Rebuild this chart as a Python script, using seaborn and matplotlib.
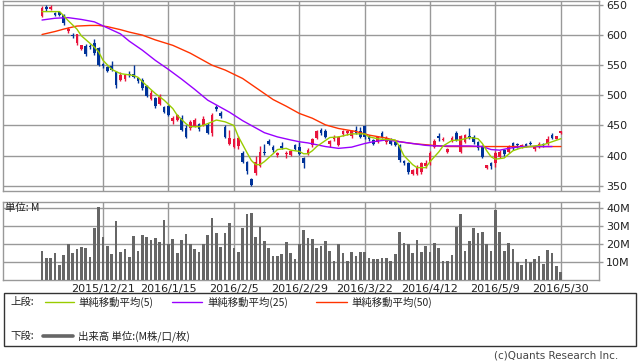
import matplotlib
matplotlib.use("Agg")
import numpy as np
import pandas as pd
import matplotlib.pyplot as plt
import seaborn as sns
from matplotlib.lines import Line2D
from matplotlib.patches import Rectangle

# ---------------- data ----------------
opens = [632,646,644,636,638,633,606,600,587,577,582,582,587,578,552,547,549,539,525,527,
         536,535,528,526,515,494,496,486,481,482,457,459,463,446,445,449,452,451,451,438,
         481,471,448,419,415,416,405,389,361,371,383,406,425,415,401,416,402,401,417,415,
         396,403,417,429,442,441,419,427,418,436,437,432,442,441,449,432,426,423,437,423,
         428,423,417,391,387,370,369,373,382,387,415,432,426,406,425,438,406,423,432,431,
         423,415,379,387,387,398,409,406,421,418,415,419,421,411,415,420,420,434,428,437]
closes = [645,644,646,633,634,620,610,598,601,583,568,580,570,550,548,540,542,517,534,534,
          534,530,523,512,499,504,482,497,473,467,463,467,442,431,456,459,444,461,437,467,
          477,465,431,430,427,430,390,375,351,390,406,404,420,410,404,413,404,407,411,403,
          387,410,428,440,438,431,425,431,431,440,441,441,437,431,431,427,420,431,431,430,
          419,418,393,387,372,376,379,387,388,405,425,430,428,411,430,426,432,434,430,422,
          412,398,384,382,405,406,403,416,412,417,418,416,420,415,420,417,428,429,432,440]
highs = [648,650,650,639,640,635,613,603,602,584,586,586,593,580,554,549,557,541,539,536,
         541,550,530,528,517,509,497,503,483,484,465,469,467,451,459,462,454,465,454,470,
         484,474,450,442,429,433,407,391,363,399,416,420,427,418,406,423,407,409,420,423,
         398,412,430,442,446,444,426,434,433,443,443,443,449,448,451,434,428,433,440,432,
         430,425,419,393,389,378,384,390,392,407,428,437,431,413,432,440,434,436,445,434,
         425,417,385,389,408,409,411,418,423,421,420,421,424,416,422,421,432,438,433,441]
lows = [630,640,642,631,632,617,604,595,583,575,566,577,567,548,545,538,540,513,523,524,
        530,528,520,509,497,492,479,484,471,465,452,457,440,430,443,447,441,449,435,432,
        474,462,429,417,413,411,388,370,349,368,381,401,418,406,398,411,396,399,409,401,
        380,401,415,427,434,429,414,424,416,432,434,430,435,429,427,424,418,421,429,420,
        417,416,390,385,370,368,367,369,379,385,413,425,424,404,423,424,404,421,428,420,
        410,396,378,378,381,396,400,404,410,413,413,414,417,408,413,415,418,427,427,436]
volume_m = [16.4,12.5,12.5,15.3,8.6,14.2,20.0,15.3,17.6,18.7,
            18.1,13.1,28.8,40.7,24.3,19.3,14.8,32.7,15.9,17.6,
            13.1,24.9,16.4,25.4,24.3,22.6,23.7,21.5,33.3,20.4,
            23.2,15.3,22.6,26.0,20.4,17.6,15.9,20.4,25.4,34.4,
            26.5,18.7,26.5,32.1,18.1,15.9,29.3,36.6,37.2,24.3,
            29.9,22.1,18.1,13.6,13.6,14.8,21.5,15.3,12.0,20.0,
            28.2,23.7,23.2,18.1,19.3,22.1,16.4,10.8,20.0,15.3,
            10.8,15.9,13.6,15.9,15.9,12.5,12.0,12.0,12.5,12.5,
            10.8,14.8,27.1,20.9,20.4,15.3,22.6,15.9,19.3,15.9,
            20.9,18.1,10.8,10.8,14.2,29.9,36.6,16.4,22.1,28.8,
            26.5,27.1,20.0,16.4,38.9,27.1,16.4,20.9,17.6,10.3,
            8.6,12.0,10.3,12.0,13.6,9.2,17.0,15.3,8.0,4.7]

ma5_idx = [0,4,5,6,8,9,12,13,14,16,18,21,22,24,26,28,30,31,33,34,36,38,40,42,44,45,47,48,49,50,
           51,53,54,56,57,59,60,61,62,63,65,66,68,71,74,75,77,78,81,82,83,85,86,88,89,91,92,94,96,
           98,100,101,102,103,104,106,107,108,110,113,115,117,119]
ma5_val = [639,639,632,624,610,599,580,572,558,543,536,533,530,516,503,492,478,467,453,448,448,453,459,456,450,432,405,392,385,385,
           390,403,410,412,409,407,403,403,408,415,425,430,431,436,436,431,428,427,426,415,400,385,380,380,390,406,416,425,426,
           430,428,420,408,398,394,396,402,408,413,416,418,423,428]
ma25_idx = [0,3,6,9,12,15,18,20,23,26,29,32,35,38,40,43,46,48,51,54,57,59,61,63,65,68,71,74,76,79,82,85,88,90,98,101,103,105,107,110,117]
ma25_val = [625,628,629,626,622,612,602,590,575,558,543,527,510,492,484,472,458,450,438,431,426,423,421,418,415,412,414,420,423,426,423,420,417,416,416,415,410,409,412,415,415]
ma50_idx = [0,3,5,8,11,13,15,18,20,23,26,30,34,37,39,42,46,50,53,56,59,62,65,68,72,75,79,82,85,88,93,100,110,119]
ma50_val = [601,606,610,615,616,616,614,609,605,600,592,583,570,558,550,542,528,508,493,482,470,462,451,445,440,434,429,423,420,418,415,415,415,415]

date_tick_idx = [14, 29, 44, 59, 74, 89, 104, 119]
date_tick_labels = ['2015/12/21', '2016/1/15', '2016/2/5', '2016/2/29',
                    '2016/3/22', '2016/4/12', '2016/5/9', '2016/5/30']
price_ticks = [350, 400, 450, 500, 550, 600, 650]
volume_ticks = [10, 20, 30, 40]
volume_tick_labels = ['10M', '20M', '30M', '40M']

legend_top = ['単純移動平均(5)', '単純移動平均(25)', '単純移動平均(50)']
legend_bottom = '出来高 単位:(M株/口/枚)'

# ---------------- style ----------------
sns.set_theme(style='white')
plt.rcParams['font.family'] = ['DejaVu Sans', 'Noto Sans CJK JP']
JP = ['Noto Sans CJK JP', 'DejaVu Sans']

UP, DOWN = '#e8143c', '#003399'
C5, C25, C50 = '#99cc00', '#9900ff', '#ff3300'
GRID = '#999999'
TXT = '#222222'

W, H = 638, 362
fig = plt.figure(figsize=(W / 100, H / 100), dpi=100)
fig.patch.set_facecolor('white')


def rect(l, t, r, b):
    return [l / W, 1 - b / H, (r - l) / W, (b - t) / H]


def fx(x):
    return x / W


def fy(y):
    return 1 - y / H


ax = fig.add_axes(rect(3, 1, 599, 190.7))
axv = fig.add_axes(rect(3, 201.7, 599, 280.3))

df = pd.DataFrame({'i': np.arange(len(opens)), 'o': opens, 'c': closes,
                   'h': highs, 'l': lows, 'v': volume_m})
df['up'] = df['c'] >= df['o']
df['col'] = np.where(df['up'], UP, DOWN)
df['bot'] = df[['o', 'c']].min(axis=1)
df['hgt'] = (df['c'] - df['o']).abs().clip(lower=1.6)

XL = (-8.95, 127.75)

# ---------------- price panel ----------------
ax.vlines(df['i'], df['l'], df['h'], colors=df['col'], lw=1.0, zorder=3)
ax.bar(df['i'], df['hgt'], bottom=df['bot'], width=0.62, color=df['col'],
       linewidth=0, zorder=3)
sns.lineplot(x=ma50_idx, y=ma50_val, ax=ax, color=C50, lw=1.0, zorder=4)
sns.lineplot(x=ma25_idx, y=ma25_val, ax=ax, color=C25, lw=1.0, zorder=4)
sns.lineplot(x=ma5_idx, y=ma5_val, ax=ax, color=C5, lw=1.0, zorder=5)

ax.set_xlim(*XL)
ax.set_ylim(341.7, 656.6)
ax.set_yticks(price_ticks)
ax.set_xticks(date_tick_idx)
ax.set_xticklabels([])
ax.yaxis.tick_right()
ax.tick_params(axis='y', which='both', right=True, length=3, width=1, color=GRID,
               pad=2, labelsize=8, labelcolor=TXT)
ax.tick_params(axis='x', length=0)
ax.grid(True, color=GRID, lw=1.0, zorder=0)
ax.set_axisbelow(True)
ax.set_xlabel('')
ax.set_ylabel('')

# ---------------- volume panel ----------------
sns.barplot(x=df['i'], y=df['v'], ax=axv, native_scale=True, color='#666666',
            width=0.62, errorbar=None, saturation=1, linewidth=0, zorder=3)
axv.set_xlim(*XL)
axv.set_ylim(0, 43.7)
axv.set_yticks(volume_ticks)
axv.set_yticklabels(volume_tick_labels)
axv.set_xticks(date_tick_idx)
axv.set_xticklabels(date_tick_labels)
axv.yaxis.tick_right()
axv.tick_params(axis='y', right=True, length=3, width=1, color=GRID, pad=2,
                labelsize=8, labelcolor=TXT)
axv.tick_params(axis='x', length=0, pad=2.5, labelsize=8, labelcolor=TXT)
axv.grid(True, color=GRID, lw=1.0, zorder=0)
axv.set_axisbelow(True)
axv.set_xlabel('')
axv.set_ylabel('')
axv.text(0.004, 0.915, '単位: M', transform=axv.transAxes, fontsize=7.5,
         family=JP, color=TXT, ha='left', va='center', zorder=6)

for a in (ax, axv):
    for s in a.spines.values():
        s.set_color(GRID)
        s.set_linewidth(1.0)

# ---------------- legend box ----------------
fig.add_artist(Rectangle((fx(4), fy(346)), fx(632), 53 / H, transform=fig.transFigure,
                         fill=False, edgecolor='#333333', lw=1.0))
y1, y2 = 302, 336
fig.text(fx(10), fy(y1), '上段:', family=JP, fontsize=7.5, color=TXT, ha='left', va='center')
fig.text(fx(10), fy(y2), '下段:', family=JP, fontsize=7.5, color=TXT, ha='left', va='center')
for (x0, x1, tx), col, lab in zip([(45, 74, 78), (172, 202, 207), (316, 347, 351)],
                                  [C5, C25, C50], legend_top):
    fig.add_artist(Line2D([fx(x0), fx(x1)], [fy(y1), fy(y1)], color=col, lw=1.0,
                          transform=fig.transFigure))
    fig.text(fx(tx), fy(y1), lab, family=JP, fontsize=7.5, color=TXT, ha='left', va='center')
fig.add_artist(Line2D([fx(43), fx(73)], [fy(y2), fy(y2)], color='#666666', lw=2.6,
                      transform=fig.transFigure))
fig.text(fx(78), fy(y2), legend_bottom, family=JP, fontsize=7.5, color=TXT,
         ha='left', va='center')
fig.text(fx(618), fy(356), '(c)Quants Research Inc.', fontsize=7.5, color='#444444',
         ha='right', va='center')

fig.savefig('out.png', dpi=100, facecolor='white')
